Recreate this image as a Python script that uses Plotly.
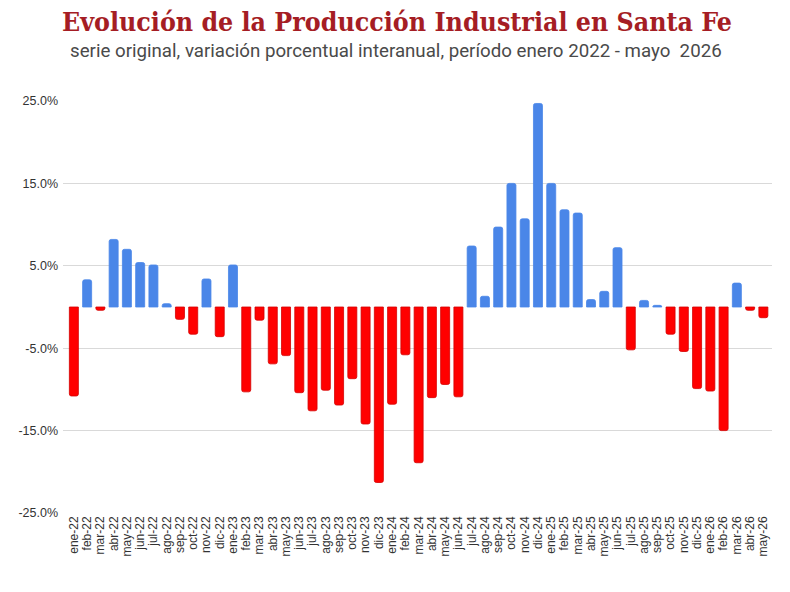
import plotly.graph_objects as go

months = ["ene-22","feb-22","mar-22","abr-22","may-22","jun-22","jul-22","ago-22","sep-22","oct-22","nov-22","dic-22",
          "ene-23","feb-23","mar-23","abr-23","may-23","jun-23","jul-23","ago-23","sep-23","oct-23","nov-23","dic-23",
          "ene-24","feb-24","mar-24","abr-24","may-24","jun-24","jul-24","ago-24","sep-24","oct-24","nov-24","dic-24",
          "ene-25","feb-25","mar-25","abr-25","may-25","jun-25","jul-25","ago-25","sep-25","oct-25","nov-25","dic-25",
          "ene-26","feb-26","mar-26","abr-26","may-26"]
values = [-10.8, 3.3, -0.4, 8.2, 7.0, 5.4, 5.1, 0.4, -1.5, -3.3, 3.4, -3.6,
          5.1, -10.3, -1.6, -6.9, -5.9, -10.4, -12.6, -10.1, -11.9, -8.7, -14.2, -21.3,
          -11.8, -5.8, -18.9, -11.0, -9.4, -10.9, 7.4, 1.3, 9.7, 15.0, 10.7, 24.7,
          15.0, 11.8, 11.4, 0.9, 1.9, 7.2, -5.2, 0.8, 0.2, -3.3, -5.4, -9.9,
          -10.2, -15.0, 2.9, -0.4, -1.3]
ytick_vals = [-25, -15, -5, 5, 15, 25]
ytick_text = ["-25.0%", "-15.0%", "-5.0%", "5.0%", "15.0%", "25.0%"]

title_text = "<b>Evolución de la Producción Industrial en Santa Fe</b>"
subtitle_text = "serie original, variación porcentual interanual, período enero 2022 - mayo  2026"

POS = "#4a86e8"
NEG = "#ff0000"
NEG_EDGE = "#d40000"
colors = [POS if v >= 0 else NEG for v in values]
edges = [POS if v >= 0 else NEG_EDGE for v in values]

fig = go.Figure(go.Bar(
    x=months, y=values, marker=dict(color=colors, line=dict(width=0.8, color=edges)),
    hovertemplate="%{x}: %{y:.1f}%<extra></extra>"))

fig.update_layout(
    width=790, height=592,
    paper_bgcolor="white", plot_bgcolor="white",
    margin=dict(l=63, r=18, t=101, b=79),
    bargap=0.32, barcornerradius=2,
    showlegend=False,
    font=dict(family="Liberation Sans, Arial, sans-serif", color="#333333"),
    annotations=[
        dict(text=title_text, xref="paper", yref="paper",
             x=(397-63)/709, y=1+(101-21)/412, xanchor="center", yanchor="middle",
             showarrow=False, font=dict(family="DejaVu Serif Condensed, DejaVu Serif", size=26.5, color="#a51d24")),
        dict(text=subtitle_text, xref="paper", yref="paper",
             x=(396-63)/709, y=1+(101-51)/412, xanchor="center", yanchor="middle",
             showarrow=False, font=dict(family="Roboto", size=18.7, color="#4a4a4a")),
    ],
)

fig.update_xaxes(
    range=[-0.82, 52.65], tickangle=-90, tickfont=dict(size=12, color="#333333"),
    tickmode="linear", dtick=1,
    showgrid=False, showline=False, ticks="", type="category")
fig.update_yaxes(
    range=[-25, 25], tickvals=ytick_vals, ticktext=ytick_text,
    showgrid=True, gridcolor="#d9d9d9", gridwidth=1, zeroline=False,
    tickfont=dict(size=12.5, color="#333333"), ticks="", ticklabelstandoff=4)

fig.write_html("out.html")
